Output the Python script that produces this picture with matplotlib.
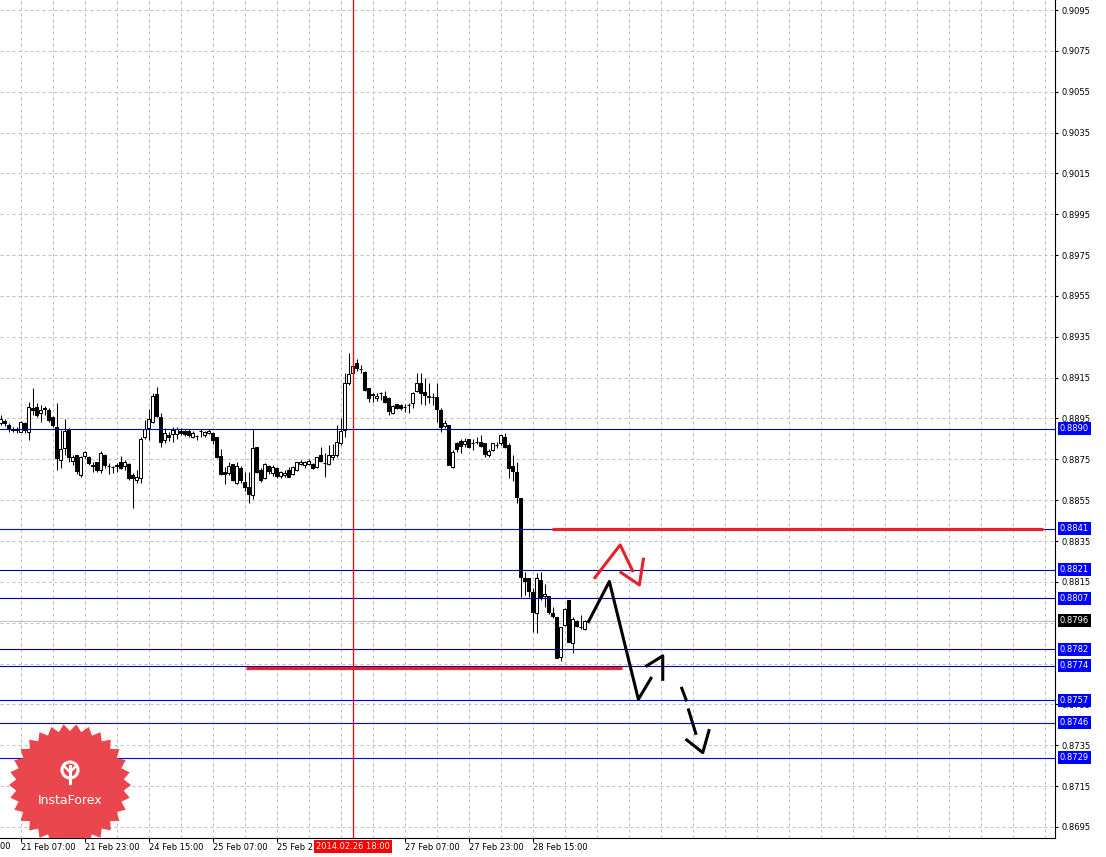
import numpy as np
import matplotlib
matplotlib.use("Agg")
import matplotlib.pyplot as plt
from matplotlib.patches import Polygon, Circle
from matplotlib.transforms import blended_transform_factory

# H1 candles, bar 0 = 21 Feb 02:00
opens = [0.88929, 0.88939, 0.88920, 0.88900, 0.88895, 0.88885, 0.88929, 0.88885, 0.89003, 0.89007,
         0.88978, 0.89003, 0.88993, 0.88959, 0.88910, 0.88748, 0.88807, 0.88900, 0.88743, 0.88773,
         0.88675, 0.88768, 0.88763, 0.88724, 0.88738, 0.88699, 0.88773, 0.88719, 0.88714, 0.88719,
         0.88738, 0.88719, 0.88728, 0.88675, 0.88650, 0.88660, 0.88861, 0.88905, 0.88934, 0.89071,
         0.88959, 0.88846, 0.88871, 0.88875, 0.88875, 0.88890, 0.88890, 0.88890, 0.88861, 0.88866,
         0.88890, 0.88871, 0.88880, 0.88880, 0.88861, 0.88768, 0.88689, 0.88684, 0.88728, 0.88635,
         0.88709, 0.88640, 0.88616, 0.88577, 0.88812, 0.88699, 0.88660, 0.88719, 0.88684, 0.88709,
         0.88670, 0.88675, 0.88699, 0.88679, 0.88699, 0.88728, 0.88724, 0.88728, 0.88728, 0.88714,
         0.88773, 0.88733, 0.88728, 0.88763, 0.88773, 0.88831, 0.88895, 0.89125, 0.89174, 0.89223,
         0.89194, 0.89179, 0.89100, 0.89071, 0.89052, 0.89076, 0.89061, 0.89052, 0.88978, 0.89022,
         0.89017, 0.89007, 0.89017, 0.89027, 0.89086, 0.89125, 0.89081, 0.89061, 0.89056, 0.89056,
         0.88993, 0.88915, 0.88920, 0.88714, 0.88831, 0.88841, 0.88826, 0.88851, 0.88831, 0.88836,
         0.88836, 0.88831, 0.88773, 0.88797, 0.88822, 0.88831, 0.88861, 0.88822, 0.88719, 0.88689,
         0.88562, 0.88170, 0.88170, 0.88101, 0.87998, 0.88160, 0.88082, 0.88082, 0.87998, 0.87979,
         0.87783, 0.87940, 0.88062, 0.87851, 0.87959, 0.87930, 0.87920]
highs = [0.88969, 0.88949, 0.88929, 0.88910, 0.88910, 0.88939, 0.88934, 0.89032, 0.89100, 0.89027,
         0.89017, 0.89012, 0.89003, 0.88964, 0.89027, 0.88895, 0.88949, 0.88905, 0.88773, 0.88773,
         0.88768, 0.88792, 0.88768, 0.88738, 0.88738, 0.88792, 0.88777, 0.88733, 0.88719, 0.88733,
         0.88768, 0.88748, 0.88733, 0.88684, 0.88699, 0.88861, 0.88944, 0.88998, 0.89076, 0.89105,
         0.88978, 0.88905, 0.88885, 0.88910, 0.88910, 0.88905, 0.88895, 0.88900, 0.88890, 0.88871,
         0.88900, 0.88890, 0.88900, 0.88885, 0.88861, 0.88802, 0.88714, 0.88738, 0.88728, 0.88738,
         0.88719, 0.88689, 0.88689, 0.88900, 0.88812, 0.88709, 0.88733, 0.88724, 0.88724, 0.88714,
         0.88694, 0.88699, 0.88714, 0.88719, 0.88738, 0.88748, 0.88743, 0.88753, 0.88733, 0.88763,
         0.88812, 0.88782, 0.88822, 0.88826, 0.88920, 0.88954, 0.89174, 0.89272, 0.89292, 0.89243,
         0.89213, 0.89184, 0.89100, 0.89076, 0.89076, 0.89081, 0.89086, 0.89056, 0.89017, 0.89022,
         0.89022, 0.89022, 0.89027, 0.89081, 0.89174, 0.89174, 0.89150, 0.89125, 0.89076, 0.89125,
         0.89003, 0.88944, 0.88920, 0.88797, 0.88836, 0.88851, 0.88856, 0.88851, 0.88851, 0.88861,
         0.88871, 0.88831, 0.88802, 0.88831, 0.88836, 0.88871, 0.88880, 0.88831, 0.88773, 0.88738,
         0.88562, 0.88199, 0.88170, 0.88121, 0.88194, 0.88199, 0.88140, 0.88082, 0.88028, 0.87979,
         0.87930, 0.88023, 0.88062, 0.87979, 0.87964, 0.87989, 0.87964]
lows = [0.88920, 0.88915, 0.88885, 0.88885, 0.88880, 0.88885, 0.88880, 0.88846, 0.88969, 0.88959,
        0.88934, 0.88969, 0.88934, 0.88910, 0.88699, 0.88709, 0.88773, 0.88738, 0.88724, 0.88679,
        0.88665, 0.88758, 0.88724, 0.88689, 0.88689, 0.88684, 0.88709, 0.88679, 0.88684, 0.88689,
        0.88704, 0.88699, 0.88650, 0.88513, 0.88635, 0.88635, 0.88851, 0.88846, 0.88929, 0.88959,
        0.88812, 0.88831, 0.88841, 0.88836, 0.88851, 0.88871, 0.88866, 0.88861, 0.88856, 0.88846,
        0.88861, 0.88861, 0.88875, 0.88826, 0.88758, 0.88675, 0.88630, 0.88675, 0.88645, 0.88630,
        0.88635, 0.88596, 0.88537, 0.88557, 0.88684, 0.88640, 0.88655, 0.88679, 0.88670, 0.88660,
        0.88660, 0.88665, 0.88665, 0.88675, 0.88694, 0.88724, 0.88709, 0.88724, 0.88704, 0.88709,
        0.88738, 0.88665, 0.88724, 0.88748, 0.88763, 0.88822, 0.88861, 0.89115, 0.89140, 0.89184,
        0.89174, 0.89086, 0.89032, 0.89032, 0.89037, 0.89042, 0.89027, 0.88969, 0.88973, 0.88998,
        0.88993, 0.88983, 0.88978, 0.89003, 0.89081, 0.89022, 0.89017, 0.89027, 0.89017, 0.88934,
        0.88885, 0.88905, 0.88724, 0.88709, 0.88787, 0.88782, 0.88812, 0.88807, 0.88797, 0.88826,
        0.88812, 0.88763, 0.88763, 0.88792, 0.88807, 0.88822, 0.88807, 0.88660, 0.88645, 0.88537,
        0.88077, 0.88087, 0.88077, 0.87905, 0.87901, 0.88062, 0.88028, 0.87994, 0.87974, 0.87778,
        0.87764, 0.87935, 0.87856, 0.87803, 0.87930, 0.87920, 0.87915]
closes = [0.88949, 0.88929, 0.88900, 0.88895, 0.88900, 0.88934, 0.88895, 0.89007, 0.88993, 0.88969,
          0.88993, 0.88998, 0.88944, 0.88920, 0.88758, 0.88802, 0.88890, 0.88763, 0.88763, 0.88694,
          0.88763, 0.88787, 0.88733, 0.88719, 0.88699, 0.88782, 0.88724, 0.88719, 0.88714, 0.88724,
          0.88709, 0.88738, 0.88660, 0.88660, 0.88665, 0.88851, 0.88900, 0.88949, 0.89061, 0.88964,
          0.88836, 0.88880, 0.88861, 0.88895, 0.88900, 0.88880, 0.88875, 0.88871, 0.88880, 0.88866,
          0.88890, 0.88885, 0.88890, 0.88846, 0.88763, 0.88679, 0.88679, 0.88719, 0.88650, 0.88719,
          0.88650, 0.88616, 0.88581, 0.88807, 0.88689, 0.88650, 0.88728, 0.88694, 0.88714, 0.88670,
          0.88689, 0.88684, 0.88665, 0.88714, 0.88738, 0.88738, 0.88738, 0.88743, 0.88709, 0.88763,
          0.88743, 0.88733, 0.88773, 0.88773, 0.88836, 0.88890, 0.89125, 0.89169, 0.89208, 0.89199,
          0.89194, 0.89091, 0.89052, 0.89066, 0.89061, 0.89076, 0.89032, 0.88988, 0.89012, 0.89003,
          0.89003, 0.89007, 0.89017, 0.89076, 0.89125, 0.89076, 0.89066, 0.89056, 0.89056, 0.88998,
          0.88910, 0.88929, 0.88724, 0.88787, 0.88802, 0.88817, 0.88841, 0.88812, 0.88831, 0.88836,
          0.88817, 0.88777, 0.88792, 0.88831, 0.88822, 0.88871, 0.88812, 0.88709, 0.88694, 0.88567,
          0.88175, 0.88155, 0.88106, 0.88003, 0.88170, 0.88072, 0.88091, 0.88003, 0.87984, 0.87778,
          0.87930, 0.88018, 0.87856, 0.87969, 0.87935, 0.87930, 0.87959]

time_labels = ['20 Feb 15:00', '21 Feb 07:00', '21 Feb 23:00', '24 Feb 15:00', '25 Feb 07:00',
               '25 Feb 23:00', '27 Feb 07:00', '27 Feb 23:00', '28 Feb 15:00']
label_bars = [-11, 5, 21, 37, 53, 69, 101, 117, 133]
# 0.8795 and 0.8775 sit under the price boxes, so they are not listed
price_ticks = [0.8695, 0.8715, 0.8735, 0.8755, 0.8815, 0.8835, 0.8855, 0.8875,
               0.8895, 0.8915, 0.8935, 0.8955, 0.8975, 0.8995, 0.9015, 0.9035, 0.9055, 0.9075, 0.9095]
grid_prices = [0.8695, 0.8715, 0.8735, 0.8755, 0.8775, 0.8795, 0.8815, 0.8835, 0.8855, 0.8875,
               0.8895, 0.8915, 0.8935, 0.8955, 0.8975, 0.8995, 0.9015, 0.9035, 0.9055, 0.9075, 0.9095]

levels = [0.8890, 0.8841, 0.8821, 0.8807, 0.8782, 0.8774, 0.8757, 0.8746, 0.8729]
level_colors = ['#000099', '#0000ff', '#000099', '#000099', '#000099', '#000099',
                '#0000ff', '#0000ff', '#0000ff']
current_price = 0.8796
marker_bar = 88
marker_label = '2014.02.26 18:00'

# analyst drawings: (price, from bar, to bar)
red_segments = [(0.8841, 137.8, 260.6), (0.8773, 61.4, 155.4)]
black_path_x = [147.0, 152.2, 159.45, 162.6]
black_path_y = [0.87956, 0.88152, 0.87575, 0.87678]
black_head_x = [161.55, 165.55, 165.55]
black_head_y = [0.87739, 0.87788, 0.87673]
dash_x = [[170.3, 171.4], [172.0, 173.8]]
dash_y = [[0.87629, 0.87572], [0.87523, 0.87408]]
dash_head_x = [171.55, 175.55, 177.1]
dash_head_y = [0.87376, 0.87314, 0.87422]
red_path_x = [148.6, 154.9, 158.0]
red_path_y = [0.88171, 0.88331, 0.88205]
red_head_x = [155.1, 159.7, 160.7]
red_head_y = [0.88196, 0.88135, 0.88261]

W, H = 1106, 857
fig = plt.figure(figsize=(W / 100, H / 100), dpi=100)
fig.patch.set_facecolor('white')
ax = fig.add_axes([0, 19 / H, 1055 / W, 838 / H])
ax.set_xlim(-0.125, 263.6)
ax.set_ylim(0.86896, 0.90999)

grid_kw = dict(color='#c0c0c0', linestyle=(0, (3, 3)), linewidth=0.72, zorder=0.5)

# grid
ax.set_yticks(price_ticks)
ax.set_yticklabels([f'{p:.4f}' for p in price_ticks])
ax.set_xticks(label_bars[1:])
ax.set_xticklabels(time_labels[1:])
for gp in grid_prices:
    ax.axhline(gp, **grid_kw)
for gx in np.arange(5, 264, 8):
    ax.axvline(gx, **grid_kw)

for s in ['top', 'left']:
    ax.spines[s].set_visible(False)
ax.spines['right'].set_linewidth(0.8)
ax.spines['bottom'].set_linewidth(0.8)
ax.yaxis.tick_right()
ax.tick_params(axis='y', which='major', length=2, pad=3, labelsize=6, colors='black')
ax.tick_params(axis='x', which='major', length=3, pad=0.5, labelsize=6)
for lab in ax.get_xticklabels():
    lab.set_ha('left')

# candles
x = np.arange(len(opens))
o = np.array(opens); c = np.array(closes)
ax.vlines(x, lows, highs, color='black', linewidth=0.75, zorder=2)
bull = c > o
ax.bar(x[bull], (c - o)[bull], bottom=o[bull], width=0.6, color='white',
       edgecolor='black', linewidth=0.75, zorder=2.1)
ax.bar(x[~bull], (o - c)[~bull], bottom=c[~bull], width=0.6, color='black',
       edgecolor='black', linewidth=0.75, zorder=2.1)

# horizontal levels
for lv, col in zip(levels, level_colors):
    ax.axhline(lv, color=col, linewidth=0.8, zorder=3)
ax.axhline(current_price, color='#c0c0c0', linewidth=0.8, zorder=1.8)

# red time marker
ax.axvline(marker_bar, color='red', linewidth=0.9, zorder=3)

# analyst drawings
for lv, x0, x1 in red_segments:
    ax.plot([x0, x1], [lv, lv], color='#e8202a', linewidth=2.3, solid_capstyle='butt', zorder=4)
ax.plot(black_path_x, black_path_y, color='black', linewidth=2.2, zorder=5)
ax.plot(black_head_x, black_head_y, color='black', linewidth=2.2, zorder=5)
for dx, dy in zip(dash_x, dash_y):
    ax.plot(dx, dy, color='black', linewidth=2.2, zorder=5)
ax.plot(dash_head_x, dash_head_y, color='black', linewidth=2.2, zorder=5)
ax.plot(red_path_x, red_path_y, color='#e8202a', linewidth=2.2, zorder=5)
ax.plot(red_head_x, red_head_y, color='#e8202a', linewidth=2.2, zorder=5)

# price labels on right axis
tr_y = blended_transform_factory(ax.transAxes, ax.transData)
for lv in levels:
    ax.text(1.0045, lv, f'{lv:.4f}', transform=tr_y, ha='left', va='center', fontsize=6,
            color='white', bbox=dict(boxstyle='square,pad=0.22', fc='#0000ff', ec='none'),
            clip_on=False, zorder=6)
ax.text(1.0045, current_price, f'{current_price:.4f}', transform=tr_y, ha='left', va='center',
        fontsize=6, color='white', bbox=dict(boxstyle='square,pad=0.22', fc='black', ec='none'),
        clip_on=False, zorder=6)

# cut-off label at left edge and the red time box
tr_x = blended_transform_factory(ax.transData, ax.transAxes)
ax.text(label_bars[0], -0.0105, time_labels[0], transform=tr_x, ha='left', va='center',
        fontsize=6, clip_on=False)
ax.text(marker_bar, -0.0105, marker_label, transform=tr_x, ha='center', va='center',
        fontsize=6, color='white', bbox=dict(boxstyle='square,pad=0.25', fc='red', ec='none'),
        clip_on=False, zorder=6)

# InstaForex badge
lg = fig.add_axes([0, 19 / H, 145 / W, 123 / H])
lg.set_xlim(0, 145)
lg.set_ylim(838, 715)
lg.axis('off')
n = 30
ang = np.linspace(0, 2 * np.pi, 2 * n, endpoint=False)
rad = np.where(np.arange(2 * n) % 2 == 0, 61, 54)
star = np.column_stack([70 + rad * np.cos(ang), 785 + rad * np.sin(ang)])
lg.add_patch(Polygon(star, closed=True, fc='#e9474d', ec='none'))
lg.add_patch(Circle((70, 770), 8, fc='none', ec='white', lw=2.2))
lg.plot([70, 70], [766, 783], color='white', lw=2.2)
lg.plot([64, 70, 76], [766, 772, 766], color='white', lw=1.8)
lg.text(70, 800, 'InstaForex', color='white', fontsize=9, ha='center', va='center')

fig.savefig('out.png', dpi=100)
